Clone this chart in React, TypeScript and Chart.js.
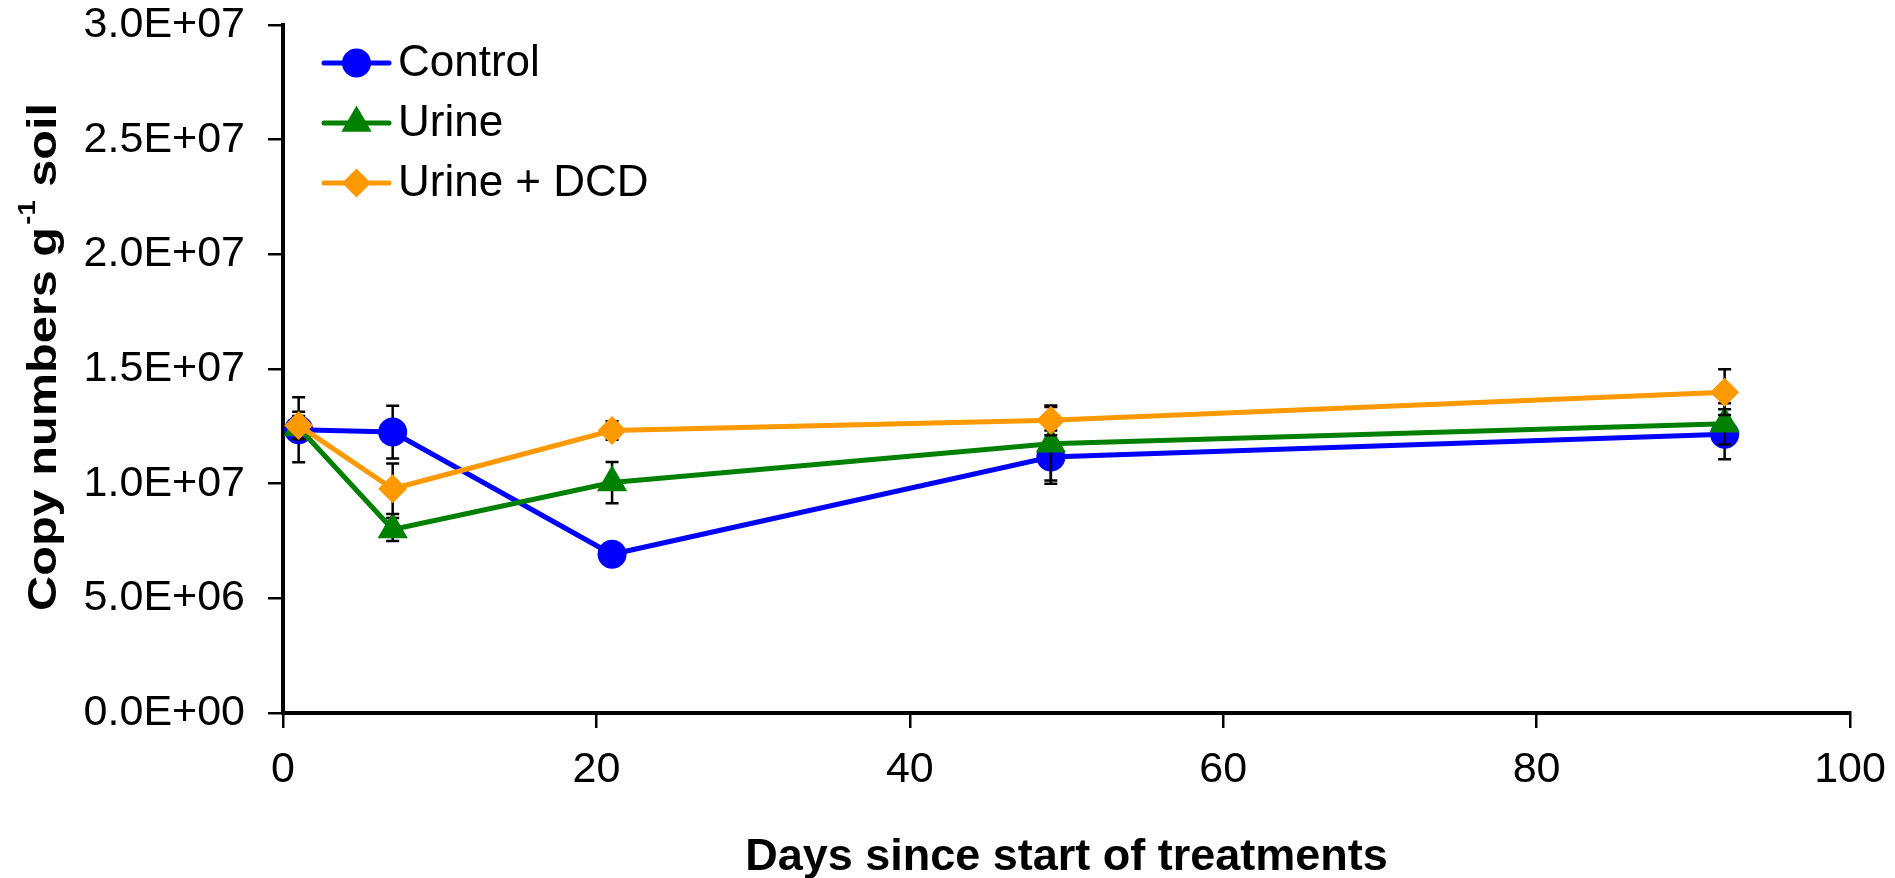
import React, { useEffect, useRef } from "react";
import { Chart, registerables } from "chart.js";

Chart.register(...registerables);

// ---- Data ----
const days = [1, 7, 21, 49, 92];
const seriesNames = ["Control", "Urine", "Urine + DCD"];
const controlValues = [1.235e7, 1.225e7, 6.92e6, 1.116e7, 1.215e7];
const controlErrors = [1.42e6, 1.15e6, 3e5, 1.16e6, 1.09e6];
const urineValues = [1.245e7, 8.0e6, 1.005e7, 1.174e7, 1.261e7];
const urineErrors = [5e5, 5e5, 9e5, 1.6e6, 9e5];
const dcdValues = [1.254e7, 9.78e6, 1.232e7, 1.276e7, 1.399e7];
const dcdErrors = [6e5, 1.1e6, 4e5, 6.5e5, 1.0e6];
const xTickValues = [0, 20, 40, 60, 80, 100];
const yTickValues = [0, 5e6, 1e7, 1.5e7, 2e7, 2.5e7, 3e7];
const xTitle = "Days since start of treatments";
const yTitleMain = "Copy numbers g";
const yTitleSup = "-1";
const yTitleEnd = " soil";

const FONT = "'Liberation Sans', Arial, sans-serif";
const COLORS = ["#0000ff", "#008000", "#ff9900"];
const STYLES = ["circle", "triangle", "rectRot"];
const RADII = [14.5, 17.5, 14.5];

function fmtSci(v: number): string {
  if (v === 0) return "0.0E+00";
  const exp = Math.floor(Math.log10(Math.abs(v)) + 1e-9);
  const mant = v / Math.pow(10, exp);
  const sign = exp < 0 ? "-" : "+";
  const e = Math.abs(exp).toString().padStart(2, "0");
  return mant.toFixed(1) + "E" + sign + e;
}

function drawMarker(ctx: CanvasRenderingContext2D, style: string, x: number, y: number, r: number, color: string) {
  ctx.save();
  ctx.fillStyle = color;
  ctx.beginPath();
  if (style === "circle") {
    ctx.arc(x, y, r, 0, Math.PI * 2);
  } else if (style === "triangle") {
    ctx.moveTo(x, y - r);
    ctx.lineTo(x + r * Math.sin((2 * Math.PI) / 3), y - r * Math.cos((2 * Math.PI) / 3));
    ctx.lineTo(x + r * Math.sin((4 * Math.PI) / 3), y - r * Math.cos((4 * Math.PI) / 3));
  } else {
    ctx.moveTo(x - r, y);
    ctx.lineTo(x, y - r);
    ctx.lineTo(x + r, y);
    ctx.lineTo(x, y + r);
  }
  ctx.closePath();
  ctx.fill();
  ctx.restore();
}

const errorBarPlugin = {
  id: "errorBars",
  beforeDatasetDraw(chart: any, args: any) {
    const ds = chart.data.datasets[args.index];
    const errs: number[] = ds.errors;
    if (!errs) return;
    const xs = chart.scales.x;
    const ys = chart.scales.y;
    const ctx = chart.ctx;
    ctx.save();
    ctx.strokeStyle = "#000";
    ctx.lineWidth = 2.5;
    const cap = 6.5;
    ds.data.forEach((p: any, i: number) => {
      const x = xs.getPixelForValue(p.x);
      const yt = ys.getPixelForValue(p.y + errs[i]);
      const yb = ys.getPixelForValue(p.y - errs[i]);
      ctx.beginPath();
      ctx.moveTo(x, yt);
      ctx.lineTo(x, yb);
      ctx.moveTo(x - cap, yt);
      ctx.lineTo(x + cap, yt);
      ctx.moveTo(x - cap, yb);
      ctx.lineTo(x + cap, yb);
      ctx.stroke();
    });
    ctx.restore();
  },
};

const decorPlugin = {
  id: "decor",
  afterDraw(chart: any) {
    const ctx = chart.ctx as CanvasRenderingContext2D;
    const area = chart.chartArea;
    // Legend
    const rows = [63, 123, 183];
    seriesNames.forEach((name, i) => {
      const y = rows[i];
      ctx.save();
      ctx.strokeStyle = COLORS[i];
      ctx.lineWidth = 5;
      ctx.lineCap = "round";
      ctx.beginPath();
      ctx.moveTo(324, y);
      ctx.lineTo(389, y);
      ctx.stroke();
      ctx.restore();
      drawMarker(ctx, STYLES[i], 356.5, y, RADII[i], COLORS[i]);
      ctx.save();
      ctx.fillStyle = "#000";
      ctx.font = `44px ${FONT}`;
      ctx.textAlign = "left";
      ctx.textBaseline = "middle";
      ctx.fillText(name, 398, y + 1);
      ctx.restore();
    });
    // X title
    ctx.save();
    ctx.fillStyle = "#000";
    ctx.font = `bold 45px ${FONT}`;
    ctx.textAlign = "center";
    ctx.textBaseline = "alphabetic";
    ctx.fillText(xTitle, (area.left + area.right) / 2, 870);
    ctx.restore();
    // Y title (rotated, with superscript)
    ctx.save();
    const mainFont = `bold 41px ${FONT}`;
    const supFont = `bold 23px ${FONT}`;
    ctx.font = mainFont;
    const w1 = ctx.measureText(yTitleMain).width;
    const w3 = ctx.measureText(yTitleEnd).width;
    ctx.font = supFont;
    const w2 = ctx.measureText(yTitleSup).width;
    const natural = w1 + 2 + w2 + w3;
    const target = 508;
    const sx = target / natural;
    const cy = 357;
    ctx.translate(56, cy);
    ctx.rotate(-Math.PI / 2);
    ctx.scale(sx, 1);
    ctx.fillStyle = "#000";
    ctx.textAlign = "left";
    ctx.textBaseline = "alphabetic";
    let x = -natural / 2;
    ctx.font = mainFont;
    ctx.fillText(yTitleMain, x, 0);
    x += w1 + 2;
    ctx.font = supFont;
    ctx.fillText(yTitleSup, x, -21);
    x += w2;
    ctx.font = mainFont;
    ctx.fillText(yTitleEnd, x, 0);
    ctx.restore();
  },
};

export default function App() {
  const ref = useRef<HTMLCanvasElement | null>(null);
  useEffect(() => {
    document.body.style.margin = "0";
    const canvas = ref.current;
    if (!canvas) return;
    const values = [controlValues, urineValues, dcdValues];
    const errors = [controlErrors, urineErrors, dcdErrors];
    const datasets = seriesNames.map((name, i) => ({
      label: name,
      data: days.map((d, j) => ({ x: d, y: values[i][j] })),
      errors: errors[i],
      borderColor: COLORS[i],
      backgroundColor: COLORS[i],
      borderWidth: 5,
      pointStyle: STYLES[i],
      pointRadius: RADII[i],
      pointHoverRadius: RADII[i],
      pointBackgroundColor: COLORS[i],
      pointBorderColor: COLORS[i],
      pointBorderWidth: 0,
      tension: 0,
      fill: false,
      order: 2 - i,
    }));
    const chart = new Chart(canvas, {
      type: "line",
      data: { datasets: datasets as any },
      options: {
        responsive: false,
        animation: false,
        events: [],
        layout: { padding: { top: 25, right: 45, left: 0, bottom: 0 } },
        plugins: {
          legend: { display: false },
          tooltip: { enabled: false },
          title: { display: false },
        },
        scales: {
          x: {
            type: "linear",
            min: 0,
            max: 100,
            afterBuildTicks: (scale: any) => {
              scale.ticks = xTickValues.map((v) => ({ value: v }));
            },
            afterFit: (scale: any) => {
              scale.height = 165;
              scale.paddingLeft = 0;
              scale.paddingRight = 0;
            },
            ticks: {
              color: "#000",
              font: { family: FONT, size: 43 },
              padding: 16,
              maxRotation: 0,
              autoSkip: false,
            },
            grid: {
              drawOnChartArea: false,
              drawTicks: true,
              tickLength: 15,
              color: "#000",
              lineWidth: 2.5,
            },
            border: { display: true, color: "#000", width: 4 },
          },
          y: {
            type: "linear",
            min: 0,
            max: 3e7,
            afterBuildTicks: (scale: any) => {
              scale.ticks = yTickValues.map((v) => ({ value: v }));
            },
            afterFit: (scale: any) => {
              scale.width = 283;
              scale.paddingTop = 0;
              scale.paddingBottom = 0;
            },
            ticks: {
              color: "#000",
              font: { family: FONT, size: 43 },
              padding: 23,
              autoSkip: false,
              callback: (v: any) => fmtSci(Number(v)),
            },
            grid: {
              drawOnChartArea: false,
              drawTicks: true,
              tickLength: 15,
              color: "#000",
              lineWidth: 2.5,
            },
            border: { display: true, color: "#000", width: 4 },
          },
        },
      },
      plugins: [errorBarPlugin, decorPlugin],
    });
    return () => chart.destroy();
  }, []);
  return <canvas ref={ref} width={1895} height={878} style={{ display: "block" }} />;
}
